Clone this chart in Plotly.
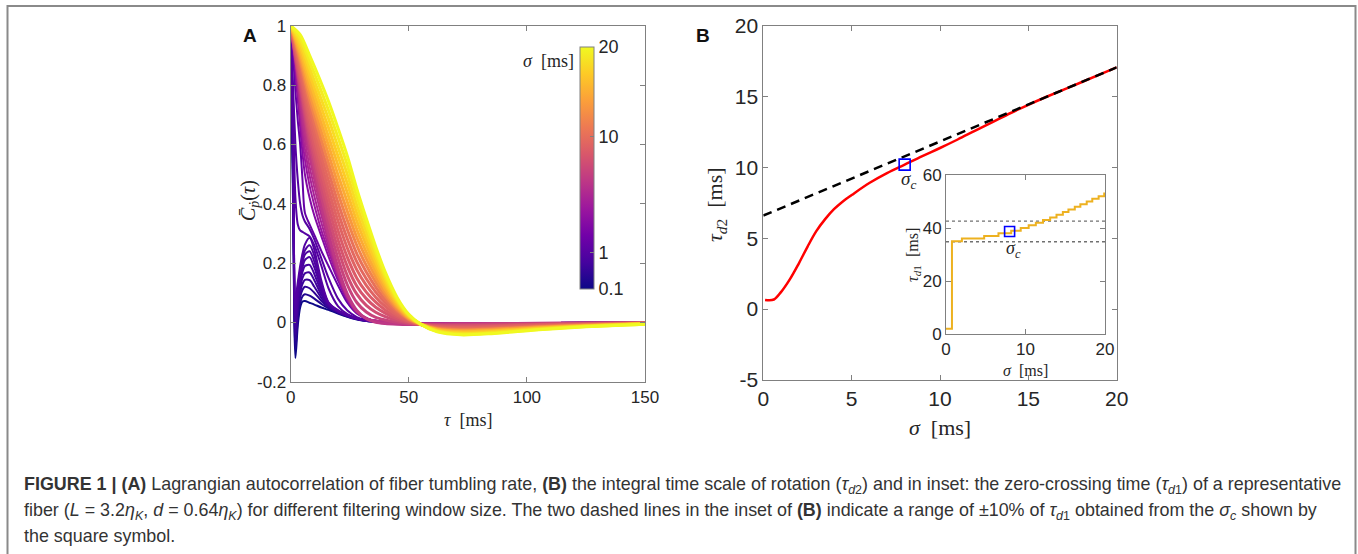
import numpy as np
import plotly.graph_objects as go
from plotly.colors import sample_colorscale

W, H = 1358, 554

# ---------------- Panel A data ----------------
tau_short = [0, 1, 2, 3, 4, 5, 6, 8, 10, 13, 16, 20, 24, 28, 33, 40, 55, 80, 110, 150]
sigma_low = [0.1, 0.19, 0.28, 0.37, 0.46, 0.55, 0.64, 0.73, 0.82, 0.91,
             0.97, 1.0, 1.2, 1.75, 2.3, 2.9, 3.35, 3.8]
corr_low = [
    [1.0, 0.40, -0.12, -0.01, 0.05, 0.07, 0.072, 0.066, 0.06, 0.05, 0.042, 0.03, 0.019, 0.01, 0.004, 0.0, -0.003, -0.003, -0.002, -0.001],
    [1.0, 0.45, -0.09, 0.01, 0.065, 0.088, 0.095, 0.09, 0.08, 0.062, 0.047, 0.032, 0.02, 0.011, 0.004, 0.0, -0.003, -0.003, -0.002, -0.001],
    [1.0, 0.50, -0.06, 0.03, 0.085, 0.11, 0.12, 0.115, 0.1, 0.072, 0.051, 0.034, 0.021, 0.011, 0.004, 0.0, -0.003, -0.003, -0.002, -0.001],
    [1.0, 0.52, -0.04, 0.045, 0.10, 0.13, 0.143, 0.142, 0.12, 0.082, 0.054, 0.035, 0.022, 0.012, 0.005, 0.0, -0.003, -0.003, -0.002, -0.001],
    [1.0, 0.55, -0.02, 0.06, 0.115, 0.15, 0.165, 0.168, 0.142, 0.092, 0.057, 0.036, 0.022, 0.012, 0.005, 0.0, -0.003, -0.003, -0.002, -0.001],
    [1.0, 0.57, 0.0, 0.075, 0.13, 0.17, 0.19, 0.194, 0.163, 0.102, 0.06, 0.037, 0.023, 0.012, 0.005, 0.0, -0.003, -0.003, -0.002, -0.001],
    [1.0, 0.60, 0.02, 0.09, 0.145, 0.185, 0.21, 0.22, 0.185, 0.112, 0.062, 0.038, 0.023, 0.012, 0.005, 0.0, -0.003, -0.003, -0.002, -0.001],
    [1.0, 0.62, 0.04, 0.105, 0.16, 0.2, 0.228, 0.24, 0.205, 0.122, 0.064, 0.039, 0.024, 0.013, 0.005, 0.001, -0.003, -0.003, -0.002, -0.001],
    [1.0, 0.64, 0.06, 0.12, 0.175, 0.215, 0.242, 0.26, 0.225, 0.13, 0.066, 0.04, 0.024, 0.013, 0.005, 0.001, -0.003, -0.003, -0.002, -0.001],
    [1.0, 0.66, 0.08, 0.135, 0.19, 0.232, 0.262, 0.285, 0.245, 0.14, 0.068, 0.041, 0.025, 0.013, 0.005, 0.001, -0.003, -0.003, -0.002, -0.001],
    [1.0, 0.72, 0.42, 0.33, 0.31, 0.305, 0.30, 0.29, 0.26, 0.19, 0.115, 0.055, 0.028, 0.014, 0.005, 0.001, -0.003, -0.003, -0.002, -0.001],
    [1.0, 0.80, 0.60, 0.48, 0.40, 0.36, 0.34, 0.315, 0.28, 0.215, 0.15, 0.08, 0.04, 0.018, 0.006, 0.001, -0.003, -0.003, -0.002, -0.001],
    [1.0, 0.90, 0.78, 0.68, 0.60, 0.48, 0.37, 0.33, 0.295, 0.24, 0.19, 0.125, 0.066, 0.03, 0.01, 0.002, -0.003, -0.003, -0.002, -0.001],
    [1.0, 0.93, 0.84, 0.75, 0.66, 0.57, 0.50, 0.42, 0.36, 0.29, 0.222, 0.142, 0.074, 0.032, 0.01, 0.002, -0.003, -0.003, -0.002, -0.001],
    [1.0, 0.945, 0.865, 0.78, 0.69, 0.615, 0.55, 0.46, 0.395, 0.31, 0.24, 0.152, 0.078, 0.034, 0.011, 0.002, -0.003, -0.003, -0.002, -0.001],
    [1.0, 0.955, 0.885, 0.80, 0.715, 0.645, 0.585, 0.495, 0.425, 0.335, 0.255, 0.16, 0.082, 0.035, 0.011, 0.002, -0.003, -0.003, -0.002, -0.001],
    [1.0, 0.96, 0.90, 0.82, 0.74, 0.67, 0.615, 0.525, 0.455, 0.36, 0.27, 0.165, 0.085, 0.036, 0.011, 0.002, -0.003, -0.003, -0.002, -0.001],
    [1.0, 0.965, 0.91, 0.84, 0.76, 0.695, 0.64, 0.555, 0.48, 0.38, 0.285, 0.172, 0.088, 0.037, 0.012, 0.002, -0.003, -0.003, -0.002, -0.001],
]

tau_long = [0, 4, 8, 12, 16, 20, 24, 28, 32, 36, 40, 45, 50, 55, 62, 72, 85, 105, 125, 150]
sigma_high = [4.2, 5.0, 5.9, 6.7, 7.5, 8.4, 9.2, 10.2, 11.4, 12.6, 13.9, 15.1, 16.3, 17.5, 18.8, 20.0]
corr_high = [
    [1.0, 0.78, 0.58, 0.43, 0.30, 0.185, 0.095, 0.04, 0.012, 0.0, -0.004, -0.006, -0.007, -0.007, -0.006, -0.005, -0.004, -0.003, -0.002, -0.001],
    [1.0, 0.793, 0.601, 0.456, 0.330, 0.216, 0.126, 0.067, 0.035, 0.017, 0.008, 0.0, -0.005, -0.007, -0.008, -0.008, -0.006, -0.005, -0.003, -0.001],
    [1.0, 0.805, 0.623, 0.483, 0.359, 0.248, 0.157, 0.095, 0.057, 0.034, 0.019, 0.006, -0.003, -0.007, -0.010, -0.010, -0.009, -0.006, -0.004, -0.002],
    [1.0, 0.818, 0.644, 0.509, 0.389, 0.279, 0.188, 0.122, 0.080, 0.051, 0.031, 0.012, 0.0, -0.007, -0.011, -0.012, -0.011, -0.007, -0.005, -0.002],
    [1.0, 0.831, 0.665, 0.535, 0.419, 0.310, 0.219, 0.149, 0.102, 0.068, 0.042, 0.018, 0.002, -0.007, -0.013, -0.015, -0.013, -0.009, -0.006, -0.002],
    [1.0, 0.843, 0.687, 0.562, 0.448, 0.342, 0.250, 0.177, 0.125, 0.085, 0.054, 0.024, 0.004, -0.007, -0.015, -0.017, -0.015, -0.010, -0.006, -0.003],
    [1.0, 0.856, 0.708, 0.588, 0.478, 0.373, 0.281, 0.204, 0.147, 0.102, 0.066, 0.030, 0.007, -0.007, -0.016, -0.020, -0.018, -0.012, -0.007, -0.003],
    [1.0, 0.869, 0.729, 0.614, 0.508, 0.404, 0.312, 0.231, 0.170, 0.119, 0.077, 0.037, 0.009, -0.007, -0.018, -0.022, -0.020, -0.013, -0.008, -0.003],
    [1.0, 0.881, 0.751, 0.641, 0.537, 0.436, 0.343, 0.259, 0.192, 0.136, 0.089, 0.043, 0.011, -0.007, -0.020, -0.025, -0.022, -0.015, -0.009, -0.004],
    [1.0, 0.894, 0.772, 0.667, 0.567, 0.467, 0.374, 0.286, 0.215, 0.153, 0.100, 0.049, 0.013, -0.006, -0.022, -0.027, -0.024, -0.016, -0.010, -0.004],
    [1.0, 0.907, 0.793, 0.693, 0.597, 0.498, 0.405, 0.313, 0.237, 0.170, 0.112, 0.055, 0.016, -0.006, -0.023, -0.030, -0.027, -0.018, -0.011, -0.004],
    [1.0, 0.919, 0.815, 0.720, 0.626, 0.530, 0.436, 0.341, 0.260, 0.187, 0.124, 0.061, 0.018, -0.006, -0.025, -0.032, -0.029, -0.019, -0.012, -0.005],
    [1.0, 0.932, 0.836, 0.746, 0.656, 0.561, 0.467, 0.368, 0.282, 0.204, 0.135, 0.067, 0.020, -0.006, -0.027, -0.035, -0.031, -0.021, -0.012, -0.005],
    [1.0, 0.945, 0.857, 0.772, 0.686, 0.592, 0.498, 0.395, 0.305, 0.221, 0.147, 0.073, 0.023, -0.006, -0.029, -0.037, -0.034, -0.022, -0.013, -0.005],
    [1.0, 0.957, 0.879, 0.799, 0.715, 0.624, 0.529, 0.423, 0.328, 0.238, 0.158, 0.079, 0.025, -0.006, -0.030, -0.040, -0.036, -0.024, -0.014, -0.006],
    [1.0, 0.970, 0.900, 0.825, 0.745, 0.655, 0.560, 0.450, 0.350, 0.255, 0.170, 0.085, 0.027, -0.006, -0.032, -0.042, -0.038, -0.025, -0.015, -0.006],
]

# colour-bar scale (sigma -> position on the bar)
cbar_sigma = [0.1, 1, 10, 20]
cbar_pos = [0.0, 0.15, 0.63, 1.0]
cbar_text = ["0.1", "1", "10", "20"]

# ---------------- Panel B data ----------------
sigma_b = [0.1, 0.6, 1.0, 1.5, 2.0, 2.5, 3.0, 3.5, 4.0, 4.5, 5.0, 6.0, 7.0, 8.0, 9.0, 10.0, 11.0, 12.0, 13.0, 14.0, 15.0, 16.0, 18.0, 20.0]
tau_d2 = [0.65, 0.68, 1.2, 2.1, 3.2, 4.4, 5.5, 6.35, 7.05, 7.6, 8.05, 8.9, 9.6, 10.2, 10.8, 11.37, 11.97, 12.6, 13.22, 13.84, 14.42, 14.97, 16.01, 17.06]
fit_sigma = [0, 20]
fit_tau = [6.6, 17.06]
sigma_c = [8.0]
tau_d2_c = [10.2]

# inset
sigma_in = [0, 0.75, 0.75, 2.0, 4.8, 6.6, 8.2, 9.4, 10.4, 11.3, 12.2, 13.1, 13.9, 14.7, 15.4, 16.2, 16.9, 17.7, 18.4, 19.2, 19.9, 20.0]
tau_d1 = [2, 2, 35, 36, 37, 38, 39, 40, 41, 42, 43, 44, 45, 46, 47, 48, 49, 50, 51, 52, 53, 53]
tau_d1_c = [38.7]
band_sigma = [0, 20]
band_low = [34.8, 34.8]
band_high = [42.6, 42.6]

SANS = "Liberation Sans, Arial, Helvetica, sans-serif"
SERIF = "Liberation Serif, Times New Roman, serif"
TXT = "#262626"
AX = "#808080"

fig = go.Figure()


def cpos(s):
    return float(np.interp(np.log10(s), np.log10(cbar_sigma), cbar_pos))


for s, row in zip(sigma_low, corr_low):
    col = sample_colorscale("Plasma", [cpos(s)])[0]
    fig.add_trace(go.Scatter(x=tau_short, y=row, mode="lines", line=dict(color=col, width=2, shape="spline", smoothing=0.8),
                             xaxis="x", yaxis="y", hoverinfo="skip"))
for s, row in zip(sigma_high, corr_high):
    col = sample_colorscale("Plasma", [cpos(s)])[0]
    fig.add_trace(go.Scatter(x=tau_long, y=row, mode="lines", line=dict(color=col, width=3, shape="spline", smoothing=0.8),
                             xaxis="x", yaxis="y", hoverinfo="skip"))

# colour bar carrier
fig.add_trace(go.Scatter(
    x=[-100], y=[-100], mode="markers", xaxis="x", yaxis="y", hoverinfo="skip",
    marker=dict(color=[0.5], colorscale="Plasma", cmin=0, cmax=1, showscale=True, size=1,
                colorbar=dict(thickness=14, thicknessmode="pixels", len=242.3 / H, lenmode="fraction",
                              x=580 / W, xanchor="left", y=1 - 46.7 / H, yanchor="top", xpad=0, ypad=0,
                              outlinewidth=1, outlinecolor=AX, tickvals=cbar_pos, ticktext=cbar_text,
                              ticks="inside", ticklen=4, tickcolor=AX,
                              tickfont=dict(family=SANS, size=18, color=TXT)))))

# Panel B
fig.add_trace(go.Scatter(x=sigma_b, y=tau_d2, mode="lines", line=dict(color="#ff0000", width=2.5, shape="spline"),
                         xaxis="x2", yaxis="y2", hoverinfo="skip"))
fig.add_trace(go.Scatter(x=fit_sigma, y=fit_tau, mode="lines", line=dict(color="#000000", width=2.5, dash="9px,6px"),
                         xaxis="x2", yaxis="y2", hoverinfo="skip"))
fig.add_trace(go.Scatter(x=sigma_c, y=tau_d2_c, mode="markers",
                         marker=dict(symbol="square-open", size=11, color="#0000ff", line=dict(width=1.6, color="#0000ff")),
                         xaxis="x2", yaxis="y2", hoverinfo="skip"))

# Inset
for yy in (band_low, band_high):
    fig.add_trace(go.Scatter(x=band_sigma, y=yy, mode="lines", line=dict(color="#707070", width=1.4, dash="dot"),
                             xaxis="x3", yaxis="y3", hoverinfo="skip"))
fig.add_trace(go.Scatter(x=sigma_in, y=tau_d1, mode="lines", line=dict(color="#EDB120", width=2, shape="hv"),
                         xaxis="x3", yaxis="y3", hoverinfo="skip"))
fig.add_trace(go.Scatter(x=sigma_c, y=tau_d1_c, mode="markers",
                         marker=dict(symbol="square-open", size=10, color="#0000ff", line=dict(width=1.6, color="#0000ff")),
                         xaxis="x3", yaxis="y3", hoverinfo="skip"))


def axis(domain, rng, tickvals, ticktext, size, anchor):
    return dict(domain=domain, range=rng, tickvals=tickvals, ticktext=ticktext, anchor=anchor,
                showline=True, linecolor=AX, linewidth=1, mirror="ticks", ticks="inside", ticklen=5,
                tickcolor=AX, showgrid=False, zeroline=False, automargin=False,
                tickfont=dict(family=SANS, size=size, color=TXT))


fig.update_layout(
    width=W, height=H, autosize=False, margin=dict(l=0, r=0, t=0, b=0, autoexpand=False),
    paper_bgcolor="white", plot_bgcolor="white", showlegend=False,
    xaxis=axis([290.7 / W, 645 / W], [0, 150], [0, 50, 100, 150], ["0", "50", "100", "150"], 17, "y"),
    yaxis=axis([1 - 381.7 / H, 1 - 25.7 / H], [-0.2, 1], [-0.2, 0, 0.2, 0.4, 0.6, 0.8, 1],
               ["-0.2", "0", "0.2", "0.4", "0.6", "0.8", "1"], 17, "x"),
    xaxis2=axis([763.3 / W, 1116.7 / W], [0, 20], [0, 5, 10, 15, 20], ["0", "5", "10", "15", "20"], 21, "y2"),
    yaxis2=axis([1 - 380 / H, 1 - 25.7 / H], [-5, 20], [-5, 0, 5, 10, 15, 20], ["-5", "0", "5", "10", "15", "20"], 21, "x2"),
    xaxis3=axis([946 / W, 1105 / W], [0, 20], [0, 10, 20], ["0", "10", "20"], 17, "y3"),
    yaxis3=axis([1 - 334 / H, 1 - 175 / H], [0, 60], [0, 20, 40, 60], ["0", "20", "40", "60"], 17, "x3"),
)

NB = "\u00a0"


def ann(text, px, py, size, family=SERIF, angle=0, color=TXT, xanchor="center"):
    fig.add_annotation(text=text, x=px / W, y=1 - py / H, xref="paper", yref="paper", showarrow=False,
                       textangle=angle, xanchor=xanchor, yanchor="middle", align="left",
                       font=dict(family=family, size=size, color=color))


ann("<b>A</b>", 250, 35, 19, SANS, color="#111")
ann("<b>B</b>", 703, 35, 19, SANS, color="#111")
ann("<i>σ</i>" + NB * 2 + "[ms]", 548, 61, 18)
ann("<i>τ</i>" + NB * 2 + "[ms]", 468, 420, 18)
ann("<i>C\u0304</i><sub><i>p\u0307</i></sub>(<i>τ</i>)", 249, 200, 20, angle=-90)
ann("<i>σ</i>" + NB * 2 + "[ms]", 940, 427, 22)
ann("<i>τ</i><sub><i>d</i>2</sub>" + NB * 2 + "[ms]", 716, 205, 22, angle=-90)
ann("<i>σ</i>" + NB * 2 + "[ms]", 1025, 370, 16)
ann("<i>τ</i><sub><i>d</i>1</sub>" + NB * 2 + "[ms]", 913, 255, 16, angle=-90)

fig.add_annotation(text="<i>σ<sub>c</sub></i>", x=8.2, y=9.1, xref="x2", yref="y2", showarrow=False,
                   font=dict(family=SERIF, size=19, color=TXT))
fig.add_annotation(text="<i>σ<sub>c</sub></i>", x=8.45, y=32.0, xref="x3", yref="y3", showarrow=False,
                   font=dict(family=SERIF, size=18, color=TXT))

cap1 = ("<b>FIGURE 1 | (A)</b> Lagrangian autocorrelation of fiber tumbling rate, <b>(B)</b> the integral time scale "
        "of rotation (<i>τ</i><sub><i>d</i>2</sub>) and in inset: the zero-crossing time (<i>τ</i><sub><i>d</i>1</sub>) "
        "of a representative")
cap2 = ("fiber (<i>L</i> = 3.2<i>η</i><sub><i>K</i></sub>, <i>d</i> = 0.64<i>η</i><sub><i>K</i></sub>) for different "
        "filtering window size. The two dashed lines in the inset of <b>(B)</b> indicate a range of ±10% of "
        "<i>τ</i><sub><i>d</i>1</sub> obtained from the <i>σ</i><sub><i>c</i></sub> shown by")
cap3 = "the square symbol."
for txt, py in ((cap1, 485), (cap2, 511), (cap3, 536)):
    ann(txt, 22, py, 17.9, SANS, color="#333", xanchor="left")

fig.add_shape(type="rect", xref="paper", yref="paper", x0=7.5 / W, x1=1355.5 / W, y0=-0.2, y1=1 - 6 / H,
              line=dict(color="#8a8a8a", width=2), fillcolor="rgba(0,0,0,0)", layer="above")

fig.write_html("out.html", config={"displayModeBar": False},
               post_script="document.body.style.margin='0px';document.body.style.overflow='hidden';")
